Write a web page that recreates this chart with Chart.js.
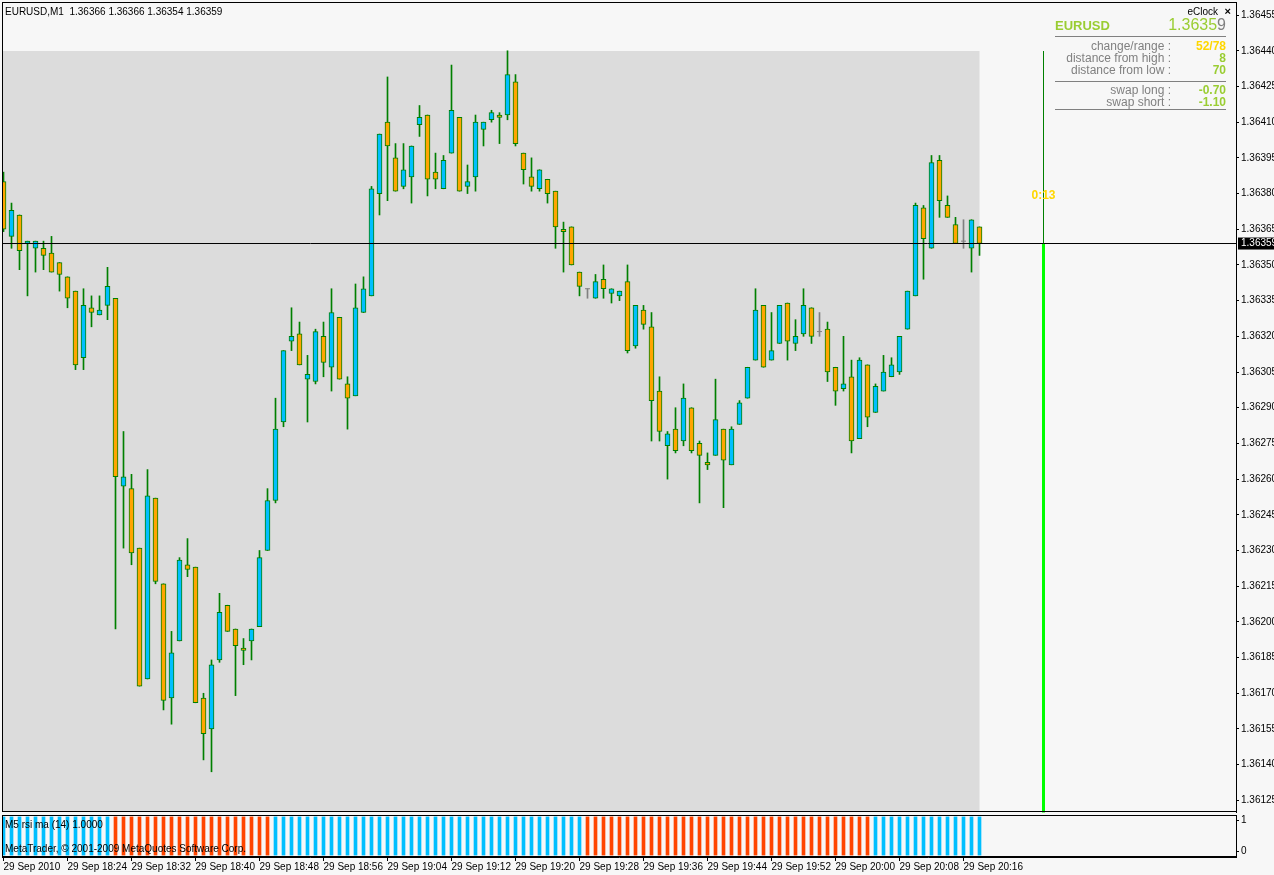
<!DOCTYPE html>
<html>
<head>
<meta charset="utf-8">
<script src="https://cdn.jsdelivr.net/npm/chart.js@4.4.1/dist/chart.umd.min.js"></script>
<style>
  html, body { margin: 0; padding: 0; background: #f7f7f7; }
  #wrap { position: relative; width: 1274px; height: 875px; overflow: hidden; }
  canvas { position: absolute; left: 0; }
  #main { top: 0; }
  #ind { top: 814px; }
</style>
</head>
<body>
<div id="wrap">
  <canvas id="main" width="1274" height="814"></canvas>
  <canvas id="ind" width="1274" height="61"></canvas>
</div>
<script>
// EURUSD M1, 29 Sep 2010 18:16 .. 20:18 (one candle per minute)
const opens = [
  1.36385, 1.36362, 1.36371, 1.36359, 1.36357, 1.36357, 1.36355, 1.36351, 1.36345, 1.36339,
  1.36311, 1.36332, 1.36329, 1.36333, 1.36336, 1.36257, 1.36256, 1.36231, 1.36176, 1.36252,
  1.36216, 1.36168, 1.36192, 1.36224, 1.36223, 1.36168, 1.36155, 1.36184, 1.36207, 1.36197,
  1.36189, 1.36192, 1.36198, 1.36230, 1.36251, 1.36284, 1.36318, 1.36321, 1.36302, 1.36301,
  1.36320, 1.36307, 1.36328, 1.36300, 1.36295, 1.36330, 1.36337, 1.36380, 1.36410, 1.36395,
  1.36383, 1.36387, 1.36409, 1.36413, 1.36389, 1.36382, 1.36397, 1.36412, 1.36383, 1.36387,
  1.36407, 1.36411, 1.36413, 1.36413, 1.36427, 1.36397, 1.36387, 1.36382, 1.36386, 1.36381,
  1.36365, 1.36366, 1.36347, 1.36340, 1.36336, 1.36344, 1.36338, 1.36337, 1.36343, 1.36316,
  1.36331, 1.36324, 1.36297, 1.36274, 1.36281, 1.36276, 1.36290, 1.36275, 1.36267, 1.36270,
  1.36281, 1.36266, 1.36283, 1.36294, 1.36310, 1.36333, 1.36310, 1.36317, 1.36334, 1.36317,
  1.36321, 1.36332, 1.36322, 1.36323, 1.36307, 1.36298, 1.36303, 1.36277, 1.36308, 1.36288,
  1.36297, 1.36303, 1.36305, 1.36323, 1.36337, 1.36374, 1.36357, 1.36394, 1.36375, 1.36367,
  1.36360, 1.36357, 1.36366
];
const highs = [
  1.36389, 1.36376, 1.36371, 1.36360, 1.36360, 1.36360, 1.36362, 1.36351, 1.36345, 1.36339,
  1.36340, 1.36337, 1.36337, 1.36349, 1.36336, 1.36280, 1.36262, 1.36231, 1.36264, 1.36252,
  1.36216, 1.36196, 1.36227, 1.36235, 1.36223, 1.36170, 1.36184, 1.36212, 1.36207, 1.36197,
  1.36193, 1.36197, 1.36230, 1.36256, 1.36294, 1.36314, 1.36332, 1.36326, 1.36312, 1.36323,
  1.36326, 1.36340, 1.36328, 1.36303, 1.36342, 1.36345, 1.36383, 1.36405, 1.36429, 1.36401,
  1.36401, 1.36400, 1.36417, 1.36413, 1.36397, 1.36396, 1.36434, 1.36412, 1.36392, 1.36413,
  1.36410, 1.36415, 1.36414, 1.36440, 1.36430, 1.36397, 1.36395, 1.36390, 1.36386, 1.36381,
  1.36368, 1.36366, 1.36347, 1.36340, 1.36346, 1.36350, 1.36340, 1.36339, 1.36350, 1.36333,
  1.36333, 1.36330, 1.36303, 1.36280, 1.36290, 1.36300, 1.36290, 1.36276, 1.36271, 1.36302,
  1.36281, 1.36282, 1.36293, 1.36307, 1.36340, 1.36333, 1.36330, 1.36333, 1.36334, 1.36327,
  1.36340, 1.36332, 1.36330, 1.36326, 1.36307, 1.36320, 1.36310, 1.36311, 1.36308, 1.36300,
  1.36312, 1.36311, 1.36320, 1.36339, 1.36376, 1.36375, 1.36396, 1.36396, 1.36379, 1.36370,
  1.36369, 1.36369, 1.36366
];
const lows = [
  1.36364, 1.36357, 1.36348, 1.36337, 1.36347, 1.36348, 1.36347, 1.36339, 1.36332, 1.36306,
  1.36306, 1.36324, 1.36329, 1.36327, 1.36197, 1.36231, 1.36224, 1.36173, 1.36176, 1.36216,
  1.36163, 1.36157, 1.36192, 1.36219, 1.36166, 1.36142, 1.36137, 1.36183, 1.36196, 1.36169,
  1.36182, 1.36184, 1.36198, 1.36230, 1.36250, 1.36282, 1.36314, 1.36308, 1.36284, 1.36300,
  1.36303, 1.36297, 1.36302, 1.36281, 1.36295, 1.36330, 1.36337, 1.36371, 1.36377, 1.36381,
  1.36382, 1.36376, 1.36404, 1.36379, 1.36382, 1.36382, 1.36397, 1.36381, 1.36380, 1.36381,
  1.36400, 1.36410, 1.36401, 1.36411, 1.36400, 1.36384, 1.36381, 1.36381, 1.36376, 1.36357,
  1.36347, 1.36350, 1.36337, 1.36336, 1.36336, 1.36336, 1.36334, 1.36335, 1.36313, 1.36315,
  1.36323, 1.36276, 1.36276, 1.36260, 1.36271, 1.36274, 1.36271, 1.36250, 1.36264, 1.36270,
  1.36248, 1.36266, 1.36283, 1.36294, 1.36310, 1.36307, 1.36310, 1.36317, 1.36310, 1.36314,
  1.36320, 1.36317, 1.36320, 1.36301, 1.36291, 1.36297, 1.36271, 1.36277, 1.36282, 1.36288,
  1.36297, 1.36303, 1.36304, 1.36323, 1.36337, 1.36344, 1.36357, 1.36370, 1.36370, 1.36359,
  1.36357, 1.36347, 1.36354
];
const closes = [
  1.36365, 1.36373, 1.36356, 1.36360, 1.36360, 1.36354, 1.36347, 1.36346, 1.36336, 1.36308,
  1.36333, 1.36330, 1.36331, 1.36341, 1.36261, 1.36261, 1.36229, 1.36173, 1.36253, 1.36217,
  1.36167, 1.36187, 1.36226, 1.36222, 1.36166, 1.36153, 1.36182, 1.36204, 1.36196, 1.36190,
  1.36188, 1.36197, 1.36227, 1.36251, 1.36281, 1.36314, 1.36320, 1.36308, 1.36304, 1.36322,
  1.36309, 1.36330, 1.36302, 1.36294, 1.36332, 1.36340, 1.36382, 1.36405, 1.36400, 1.36381,
  1.36390, 1.36400, 1.36412, 1.36386, 1.36386, 1.36394, 1.36415, 1.36381, 1.36385, 1.36410,
  1.36410, 1.36414, 1.36412, 1.36430, 1.36401, 1.36390, 1.36383, 1.36390, 1.36380, 1.36366,
  1.36364, 1.36350, 1.36341, 1.36340, 1.36343, 1.36340, 1.36340, 1.36339, 1.36314, 1.36333,
  1.36325, 1.36293, 1.36280, 1.36279, 1.36272, 1.36294, 1.36272, 1.36270, 1.36266, 1.36285,
  1.36268, 1.36281, 1.36292, 1.36307, 1.36331, 1.36307, 1.36314, 1.36333, 1.36318, 1.36320,
  1.36333, 1.36320, 1.36322, 1.36305, 1.36297, 1.36300, 1.36276, 1.36310, 1.36286, 1.36299,
  1.36305, 1.36308, 1.36320, 1.36339, 1.36375, 1.36361, 1.36393, 1.36377, 1.36370, 1.36359,
  1.36360, 1.36369, 1.36359
];

// M5 rsi ma (14): 1 = up (blue), -1 = down (red)
const rsiSignal = [
  1, 1, 1, 1, 1, 1, 1, 1, 1, 1, 1, 1, 1, 1,
  -1, -1, -1, -1, -1, -1, -1, -1, -1, -1, -1, -1, -1, -1, -1, -1, -1, -1, -1, -1,
  1, 1, 1, 1, 1, 1, 1, 1, 1, 1, 1, 1, 1, 1, 1, 1, 1, 1, 1, 1,
  1, 1, 1, 1, 1, 1, 1, 1, 1, 1, 1, 1, 1, 1, 1, 1, 1, 1, 1,
  -1, -1, -1, -1, -1, -1, -1, -1, -1, -1, -1, -1, -1, -1, -1, -1, -1, -1,
  -1, -1, -1, -1, -1, -1, -1, -1, -1, -1, -1, -1, -1, -1, -1, -1, -1, -1,
  1, 1, 1, 1, 1, 1, 1, 1, 1, 1, 1, 1, 1, 1
];
const rsiValue = '1.0000';

const xTickIndex = [0, 8, 16, 24, 32, 40, 48, 56, 64, 72, 80, 88, 96, 104, 112, 120];
const xTickLabels = ['29 Sep 2010', '29 Sep 18:24', '29 Sep 18:32', '29 Sep 18:40', '29 Sep 18:48',
  '29 Sep 18:56', '29 Sep 19:04', '29 Sep 19:12', '29 Sep 19:20', '29 Sep 19:28', '29 Sep 19:36',
  '29 Sep 19:44', '29 Sep 19:52', '29 Sep 20:00', '29 Sep 20:08', '29 Sep 20:16'];
const yTickValues = [1.36125, 1.36140, 1.36155, 1.36170, 1.36185, 1.36200, 1.36215, 1.36230,
  1.36245, 1.36260, 1.36275, 1.36290, 1.36305, 1.36320, 1.36335, 1.36350, 1.36365, 1.36380,
  1.36395, 1.36410, 1.36425, 1.36440, 1.36455];

// eClock panel
const symbol = 'EURUSD';
const period = 'M1';
const infoRows = [
  ['change/range :', '52/78', '#FFD700'],
  ['distance from high :', '8', '#9ACD32'],
  ['distance from low :', '70', '#9ACD32']
];
const swapRows = [
  ['swap long :', '-0.70', '#9ACD32'],
  ['swap short :', '-1.10', '#9ACD32']
];
const clockText = '0:13';
const clockIndex = 130;
const clockTextPrice = 1.36379;

const FONT = "'Liberation Sans', Arial, sans-serif";
const BULL = '#00BFFF', BEAR = '#FFA500', DOJI = '#808080', OUTLINE = '#008000';
const X_MIN = -0.1875, X_MAX = 154.0625;
const Y_MIN = 1.361201, Y_MAX = 1.364605;

const n = closes.length;
const lastClose = closes[n - 1];
const topHigh = Math.max(...highs);

const wickData = highs.map((h, i) => ({ x: i, y: [lows[i], h] }));
const wickColors = opens.map((o, i) => (o === closes[i] ? DOJI : OUTLINE));
const bodyData = [], bodyColors = [], dojiData = [];
opens.forEach((o, i) => {
  if (o === closes[i]) {
    dojiData.push({ x: i, y: o });
  } else {
    bodyData.push({ x: i, y: [o, closes[i]] });
    bodyColors.push(closes[i] > o ? BULL : BEAR);
  }
});

function noPad(s) { s.paddingTop = 0; s.paddingBottom = 0; s.paddingLeft = 0; s.paddingRight = 0; }

const mainPlugin = {
  id: 'mainDeco',
  beforeDraw(chart) {
    const { ctx, chartArea: a, scales: { x, y } } = chart;
    ctx.save();
    ctx.fillStyle = '#F7F7F7';
    ctx.fillRect(0, 0, chart.width, chart.height);
    const xr = x.getPixelForValue(n - 1);
    const yt = Math.round(y.getPixelForValue(topHigh));
    ctx.fillStyle = '#DCDCDC';
    ctx.fillRect(a.left, yt, xr - a.left, a.bottom - yt);
    ctx.restore();
  },
  afterDatasetsDraw(chart) {
    const { ctx, chartArea: a, scales: { x, y } } = chart;
    const yp = y.getPixelForValue(lastClose);
    const xc = x.getPixelForValue(clockIndex);
    ctx.save();
    // bid line
    ctx.strokeStyle = '#000';
    ctx.lineWidth = 1;
    ctx.beginPath();
    ctx.moveTo(a.left, yp);
    ctx.lineTo(a.right, yp);
    ctx.stroke();
    // clock bar
    ctx.strokeStyle = OUTLINE;
    ctx.beginPath();
    ctx.moveTo(xc, Math.round(y.getPixelForValue(topHigh)));
    ctx.lineTo(xc, yp);
    ctx.stroke();
    ctx.fillStyle = '#00FF00';
    ctx.fillRect(xc - 1.5, yp + 0.5, 3, a.bottom - yp);
    ctx.fillStyle = '#FFD700';
    ctx.font = `bold 12px ${FONT}`;
    ctx.textAlign = 'center';
    ctx.textBaseline = 'middle';
    ctx.fillText(clockText, xc, y.getPixelForValue(clockTextPrice));
    ctx.restore();
  },
  afterDraw(chart) {
    const { ctx, chartArea: a, scales: { y } } = chart;
    ctx.save();
    ctx.strokeStyle = '#000';
    ctx.lineWidth = 1;
    ctx.strokeRect(a.left + 0.5, a.top + 0.5, a.right - a.left, a.bottom - a.top - 1);

    // header
    ctx.fillStyle = '#000';
    ctx.font = `10px ${FONT}`;
    ctx.textAlign = 'left';
    ctx.textBaseline = 'middle';
    const ohlc = [opens[n - 1], highs[n - 1], lows[n - 1], closes[n - 1]].map(v => v.toFixed(5)).join(' ');
    ctx.fillText(`${symbol},${period}  ${ohlc}`, 5, 12);

    // eClock panel
    const R = 1226, L = 1055, LR = 1171;
    ctx.textAlign = 'right';
    ctx.font = `bold 11px ${FONT}`;
    ctx.fillText('\u00d7', 1231, 12);
    ctx.font = `10px ${FONT}`;
    ctx.fillText('eClock', 1218, 12);

    ctx.font = `bold 13px ${FONT}`;
    ctx.textAlign = 'left';
    ctx.fillStyle = '#9ACD32';
    ctx.fillText(symbol, L, 26);
    const price = lastClose.toFixed(5);
    ctx.font = `16px ${FONT}`;
    ctx.textAlign = 'right';
    ctx.fillStyle = '#808080';
    ctx.fillText(price.slice(-1), R, 26);
    const w = ctx.measureText(price.slice(-1)).width;
    ctx.fillStyle = '#9ACD32';
    ctx.fillText(price.slice(0, -1), R - w, 26);

    ctx.strokeStyle = '#808080';
    [36.5, 81.5, 109.5].forEach(ly => {
      ctx.beginPath(); ctx.moveTo(L, ly); ctx.lineTo(R, ly); ctx.stroke();
    });
    const rowsAt = (rows, y0) => rows.forEach((r, i) => {
      const ty = y0 + i * 12;
      ctx.font = `12px ${FONT}`;
      ctx.fillStyle = '#808080';
      ctx.fillText(r[0], LR, ty);
      ctx.font = `bold 12px ${FONT}`;
      ctx.fillStyle = r[2];
      ctx.fillText(r[1], R, ty);
    });
    rowsAt(infoRows, 47);
    rowsAt(swapRows, 91);

    // bid tag on price axis
    const yp = y.getPixelForValue(lastClose);
    ctx.fillStyle = '#000';
    ctx.fillRect(a.right + 2, yp - 6, chart.width - a.right - 2, 12);
    ctx.fillStyle = '#FFF';
    ctx.font = `10px ${FONT}`;
    ctx.textAlign = 'left';
    ctx.fillText(price, a.right + 5, yp);
    ctx.restore();
  }
};

new Chart(document.getElementById('main'), {
  type: 'bar',
  data: {
    datasets: [
      { label: 'wick', data: wickData, backgroundColor: wickColors, barThickness: 1, grouped: false, order: 3 },
      { label: 'body', data: bodyData, backgroundColor: bodyColors, borderColor: OUTLINE, borderWidth: 1,
        borderSkipped: false, barThickness: 5, grouped: false, order: 2 },
      { type: 'scatter', label: 'doji', data: dojiData, pointStyle: 'line', pointRadius: 2.5,
        borderColor: DOJI, borderWidth: 1, order: 1 }
    ]
  },
  options: {
    responsive: false,
    animation: false,
    events: [],
    layout: { autoPadding: false, padding: { left: 2, top: 2, bottom: 2, right: 0 } },
    plugins: { legend: { display: false }, tooltip: { enabled: false } },
    scales: {
      x: { type: 'linear', display: false, offset: false, grid: { offset: false }, min: X_MIN, max: X_MAX },
      y: {
        position: 'right',
        min: Y_MIN,
        max: Y_MAX,
        afterBuildTicks: s => { s.ticks = yTickValues.map(v => ({ value: v })); },
        afterFit: s => { s.width = 38; noPad(s); },
        ticks: { autoSkip: false, padding: 2, color: '#000', font: { family: FONT, size: 10 },
          callback: v => Number(v).toFixed(5) },
        grid: { drawOnChartArea: false, drawTicks: true, tickLength: 3, tickColor: '#000' },
        border: { color: '#000' }
      }
    }
  },
  plugins: [mainPlugin]
});

const indPlugin = {
  id: 'indDeco',
  beforeDraw(chart) {
    const { ctx } = chart;
    ctx.save();
    ctx.fillStyle = '#F7F7F7';
    ctx.fillRect(0, 0, chart.width, chart.height);
    ctx.restore();
  },
  afterDraw(chart) {
    const { ctx, chartArea: a } = chart;
    ctx.save();
    ctx.strokeStyle = '#000';
    ctx.lineWidth = 1;
    ctx.strokeRect(a.left + 0.5, a.top + 0.5, a.right - a.left, a.bottom - a.top - 1);
    ctx.fillStyle = '#000';
    ctx.font = `10px ${FONT}`;
    ctx.textAlign = 'left';
    ctx.textBaseline = 'middle';
    ctx.fillText(`M5 rsi ma (14) ${rsiValue}`, 5, a.top + 10);
    ctx.fillText('MetaTrader, \u00a9 2001-2009 MetaQuotes Software Corp.', 5, a.top + 34);
    ctx.restore();
  }
};

new Chart(document.getElementById('ind'), {
  type: 'bar',
  data: {
    datasets: [{
      label: 'M5 rsi ma (14)',
      data: rsiSignal.map((s, i) => ({ x: i, y: Math.abs(s) })),
      backgroundColor: rsiSignal.map(s => (s > 0 ? '#00BFFF' : '#FF4500')),
      barThickness: 3
    }]
  },
  options: {
    responsive: false,
    animation: false,
    events: [],
    layout: { autoPadding: false, padding: { left: 2, top: 1, bottom: 0, right: 0 } },
    plugins: { legend: { display: false }, tooltip: { enabled: false } },
    scales: {
      x: {
        type: 'linear',
        offset: false,
        min: X_MIN,
        max: X_MAX,
        afterBuildTicks: s => { s.ticks = xTickIndex.map(v => ({ value: v })); },
        afterFit: s => { s.height = 18; noPad(s); },
        ticks: { autoSkip: false, maxRotation: 0, align: 'start', padding: 0, color: '#000',
          font: { family: FONT, size: 10 }, callback: (v, i) => xTickLabels[i] },
        grid: { offset: false, drawOnChartArea: false, drawTicks: true, tickLength: 4, tickColor: '#000' },
        border: { color: '#000' }
      },
      y: {
        position: 'right',
        min: -0.05,
        max: 1.05,
        afterBuildTicks: s => { s.ticks = [{ value: 0.1 }, { value: 0.9 }]; },
        afterFit: s => { s.width = 38; noPad(s); },
        ticks: { autoSkip: false, padding: 2, color: '#000', font: { family: FONT, size: 10 },
          callback: v => (v > 0.5 ? '1' : '0') },
        grid: { drawOnChartArea: false, drawTicks: true, tickLength: 3, tickColor: '#000' },
        border: { color: '#000' }
      }
    }
  },
  plugins: [indPlugin]
});
</script>
</body>
</html>
